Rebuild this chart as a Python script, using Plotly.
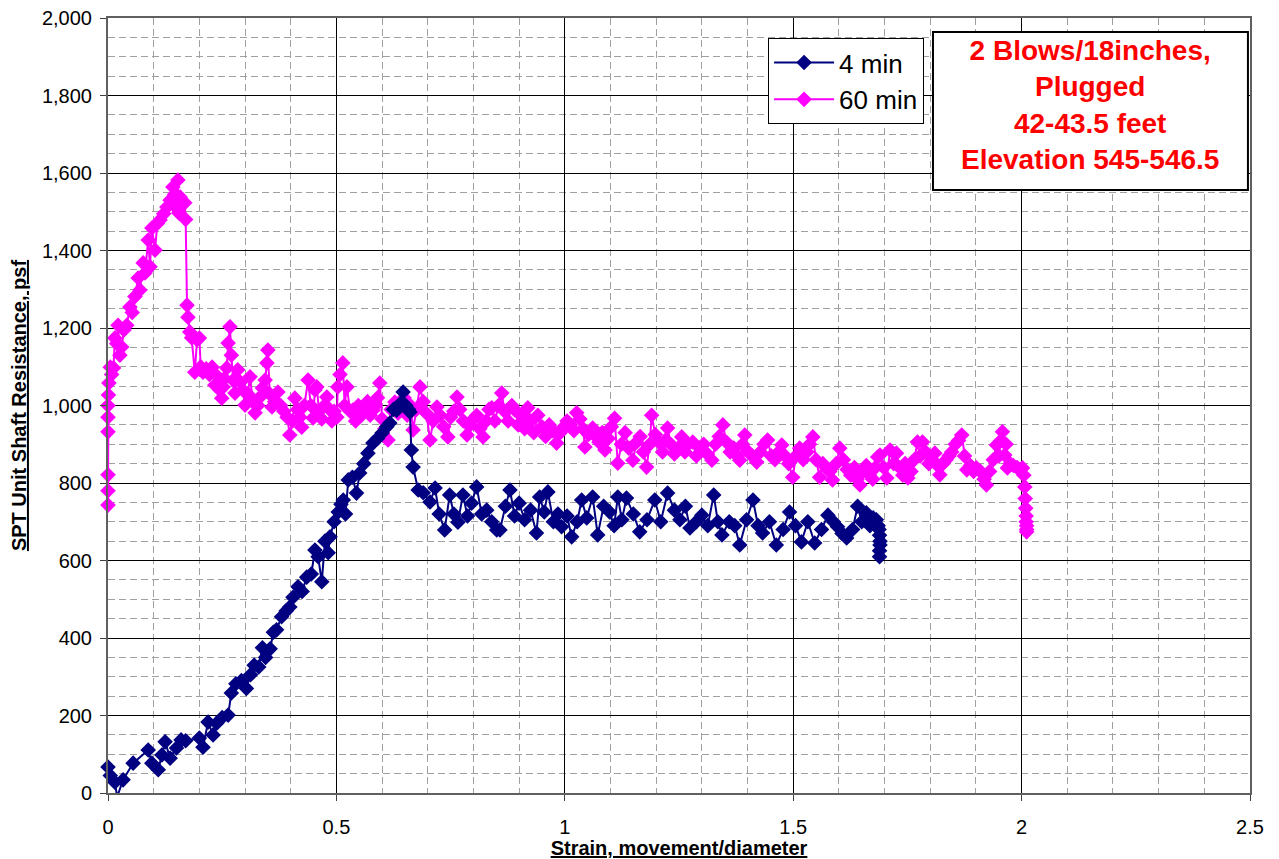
import plotly.graph_objects as go

# Strain (movement/diameter) and unit shaft resistance (psf), 4 min setup
strain_4min = [
    0.000, 0.005, 0.015, 0.020, 0.033, 0.055, 0.088, 0.096, 0.110, 0.118,
    0.125, 0.136, 0.150, 0.160, 0.170, 0.200, 0.208, 0.219, 0.230, 0.238,
    0.250, 0.263, 0.270, 0.280, 0.292, 0.303, 0.312, 0.320, 0.330, 0.338,
    0.345, 0.355, 0.362, 0.369, 0.380, 0.390, 0.398, 0.405, 0.416, 0.425,
    0.435, 0.445, 0.453, 0.460, 0.468, 0.475, 0.482, 0.486, 0.495, 0.504,
    0.510, 0.515, 0.520, 0.526, 0.535, 0.544, 0.551, 0.560, 0.569, 0.580,
    0.590, 0.600, 0.610, 0.617, 0.625, 0.632, 0.640, 0.646, 0.652, 0.658,
    0.661, 0.664, 0.668, 0.679, 0.690, 0.705, 0.716, 0.725, 0.737, 0.748,
    0.757, 0.766, 0.777, 0.787, 0.796, 0.807, 0.818, 0.829, 0.840, 0.851,
    0.858, 0.870, 0.880, 0.890, 0.900, 0.912, 0.925, 0.938, 0.945, 0.955,
    0.963, 0.975, 0.985, 0.993, 1.005, 1.015, 1.027, 1.037, 1.048, 1.061,
    1.072, 1.085, 1.098, 1.108, 1.116, 1.125, 1.135, 1.150, 1.164, 1.180,
    1.197, 1.210, 1.225, 1.240, 1.252, 1.264, 1.274, 1.288, 1.300, 1.313,
    1.326, 1.335, 1.344, 1.360, 1.372, 1.383, 1.398, 1.412, 1.423, 1.433,
    1.448, 1.463, 1.478, 1.492, 1.505, 1.518, 1.532, 1.547, 1.562, 1.576,
    1.588, 1.597, 1.607, 1.617, 1.630, 1.641, 1.650, 1.660, 1.668, 1.675,
    1.682, 1.686, 1.688, 1.689, 1.690, 1.690, 1.689, 1.689,
]
resist_4min = [
    67, 45, 28, -10, 34, 77, 111, 77, 60, 98,
    132, 90, 116, 137, 135, 142, 118, 183, 150, 180,
    195, 201, 258, 282, 290, 270, 305, 330, 325, 375,
    350, 372, 415, 421, 455, 470, 480, 505, 532, 520,
    557, 565, 627, 610, 545, 650, 620, 661, 700, 725,
    745, 756, 720, 808, 815, 774, 826, 850, 877, 903,
    915, 929, 945, 955, 990, 988, 1005, 1035, 1000, 990,
    983, 885, 841, 782, 775, 751, 787, 720, 679, 769,
    720, 699, 769, 715, 748, 790, 720, 730, 700, 679,
    679, 740, 782, 715, 748, 705, 730, 671, 764, 725,
    777, 700, 720, 687, 715, 661, 700, 756, 710, 764,
    666, 740, 725, 690, 764, 705, 761, 720, 674, 705,
    756, 700, 774, 730, 705, 740, 684, 700, 717, 690,
    769, 700, 666, 700, 690, 640, 705, 756, 690, 671,
    700, 640, 680, 725, 690, 648, 700, 645, 680, 717,
    700, 687, 670, 658, 680, 740, 700, 723, 690, 710,
    705, 690, 680, 665, 650, 640, 625, 610,
]

# 60 min setup
strain_60min = [
    0.000, 0.000, 0.000, 0.000, 0.000, 0.000, 0.001, 0.002, 0.005, 0.008,
    0.012, 0.015, 0.019, 0.022, 0.026, 0.030, 0.035, 0.041, 0.048, 0.053,
    0.059, 0.066, 0.070, 0.077, 0.081, 0.088, 0.092, 0.096, 0.103, 0.108,
    0.114, 0.122, 0.129, 0.136, 0.142, 0.146, 0.150, 0.153, 0.155, 0.158,
    0.162, 0.168, 0.170, 0.173, 0.175, 0.179, 0.183, 0.190, 0.195, 0.200,
    0.203, 0.208, 0.215, 0.222, 0.228, 0.234, 0.240, 0.245, 0.249, 0.252,
    0.255, 0.260, 0.263, 0.267, 0.270, 0.274, 0.278, 0.284, 0.290, 0.295,
    0.300, 0.306, 0.311, 0.317, 0.322, 0.328, 0.333, 0.338, 0.344, 0.348,
    0.350, 0.354, 0.359, 0.365, 0.372, 0.378, 0.385, 0.392, 0.398, 0.404,
    0.409, 0.415, 0.420, 0.424, 0.430, 0.438, 0.444, 0.449, 0.453, 0.457,
    0.462, 0.468, 0.474, 0.479, 0.485, 0.490, 0.495, 0.501, 0.503, 0.508,
    0.514, 0.518, 0.523, 0.530, 0.536, 0.542, 0.548, 0.555, 0.562, 0.568,
    0.574, 0.580, 0.585, 0.590, 0.595, 0.600, 0.606, 0.613, 0.620, 0.628,
    0.635, 0.642, 0.648, 0.655, 0.662, 0.668, 0.675, 0.683, 0.690, 0.697,
    0.705, 0.712, 0.720, 0.727, 0.735, 0.744, 0.750, 0.757, 0.764, 0.770,
    0.778, 0.786, 0.793, 0.800, 0.807, 0.814, 0.821, 0.828, 0.834, 0.840,
    0.847, 0.855, 0.862, 0.868, 0.876, 0.884, 0.891, 0.898, 0.905, 0.912,
    0.919, 0.925, 0.932, 0.941, 0.950, 0.958, 0.966, 0.974, 0.982, 0.990,
    0.998, 1.005, 1.012, 1.020, 1.026, 1.033, 1.040, 1.044, 1.052, 1.061,
    1.068, 1.075, 1.082, 1.088, 1.095, 1.102, 1.109, 1.116, 1.124, 1.132,
    1.140, 1.149, 1.157, 1.165, 1.172, 1.179, 1.186, 1.190, 1.198, 1.206,
    1.214, 1.220, 1.225, 1.232, 1.240, 1.248, 1.256, 1.263, 1.270, 1.280,
    1.288, 1.296, 1.304, 1.312, 1.322, 1.330, 1.338, 1.346, 1.354, 1.362,
    1.370, 1.378, 1.383, 1.389, 1.394, 1.402, 1.410, 1.420, 1.428, 1.436,
    1.444, 1.452, 1.460, 1.468, 1.475, 1.482, 1.490, 1.499, 1.506, 1.514,
    1.522, 1.530, 1.536, 1.543, 1.550, 1.558, 1.565, 1.572, 1.580, 1.586,
    1.594, 1.602, 1.610, 1.618, 1.626, 1.634, 1.640, 1.646, 1.652, 1.660,
    1.667, 1.674, 1.680, 1.685, 1.690, 1.698, 1.705, 1.712, 1.720, 1.726,
    1.733, 1.740, 1.745, 1.751, 1.758, 1.765, 1.772, 1.778, 1.783, 1.790,
    1.797, 1.804, 1.810, 1.816, 1.821, 1.828, 1.835, 1.841, 1.847, 1.855,
    1.862, 1.869, 1.875, 1.880, 1.888, 1.895, 1.901, 1.910, 1.918, 1.923,
    1.930, 1.938, 1.945, 1.950, 1.955, 1.958, 1.963, 1.966, 1.969, 1.975,
    1.982, 1.990, 1.996, 2.002, 2.005, 2.007, 2.008, 2.009, 2.010, 2.010,
    2.011, 2.011, 2.011,
]
resist_60min = [
    743, 780, 821, 932, 970, 1000, 1027, 1058, 1099, 1080,
    1097, 1174, 1160, 1207, 1130, 1151, 1195, 1207, 1254, 1240,
    1281, 1329, 1298, 1368, 1342, 1427, 1358, 1458, 1401, 1470,
    1479, 1495, 1512, 1530, 1564, 1545, 1510, 1582, 1497, 1538,
    1520, 1523, 1480, 1259, 1228, 1190, 1175, 1086, 1170, 1174,
    1100, 1086, 1095, 1080, 1099, 1053, 1075, 1040, 1019, 1048,
    1070, 1097, 1161, 1203, 1130, 1065, 1032, 1092, 1060, 1040,
    1001, 1030, 1074, 1010, 981, 1000, 1022, 1045, 1066, 1110,
    1143, 1030, 996, 1010, 1035, 1000, 985, 970, 924, 960,
    1019, 990, 970, 944, 1000, 1066, 1000, 968, 1040, 1048,
    985, 965, 1000, 1022, 990, 960, 985, 970, 1048, 1080,
    1110, 1000, 1048, 985, 988, 960, 1000, 975, 988, 1010,
    975, 988, 1000, 1020, 1058, 965, 940, 911, 990, 1009,
    980, 1000, 1020, 975, 1000, 937, 990, 1048, 1010, 980,
    911, 960, 996, 975, 945, 919, 970, 985, 1022, 990,
    960, 924, 950, 965, 975, 940, 919, 960, 990, 994,
    960, 1000, 1032, 985, 960, 1000, 988, 950, 975, 940,
    994, 960, 930, 975, 945, 920, 950, 935, 903, 930,
    945, 960, 950, 935, 981, 965, 940, 893, 925, 942,
    920, 905, 930, 885, 915, 945, 967, 851, 900, 930,
    890, 859, 905, 920, 880, 841, 900, 975, 925, 905,
    880, 910, 942, 900, 875, 890, 919, 880, 900, 906,
    870, 890, 900, 875, 859, 900, 920, 950, 905, 880,
    890, 870, 859, 900, 924, 880, 870, 854, 880, 900,
    911, 870, 860, 880, 898, 870, 850, 815, 870, 890,
    860, 880, 900, 919, 860, 815, 850, 840, 830, 808,
    850, 890, 860, 835, 820, 840, 810, 795, 830, 845,
    820, 810, 840, 867, 872, 840, 813, 885, 850, 877,
    840, 820, 850, 813, 830, 860, 906, 870, 906, 880,
    850, 860, 877, 845, 821, 850, 860, 870, 880, 900,
    910, 924, 870, 834, 845, 830, 839, 830, 810, 795,
    830, 860, 898, 870, 910, 932, 872, 900, 839, 850,
    845, 840, 835, 839, 820, 790, 760, 735, 715, 700,
    690, 680, 674,
]

x_ticks = [0, 0.5, 1, 1.5, 2, 2.5]
y_ticks = [0, 200, 400, 600, 800, 1000, 1200, 1400, 1600, 1800, 2000]

info_lines = ["2 Blows/18inches,", "Plugged", "42-43.5 feet", "Elevation 545-546.5"]

FONT = "Arial, 'Liberation Sans', sans-serif"

fig = go.Figure()

fig.add_trace(go.Scatter(
    x=strain_60min, y=resist_60min, name="60 min", mode="lines+markers",
    line=dict(color="#FF00FF", width=2),
    marker=dict(symbol="diamond", size=12, color="#FF00FF"),
    cliponaxis=False, legendrank=2,
))
fig.add_trace(go.Scatter(
    x=strain_4min, y=resist_4min, name="4 min", mode="lines+markers",
    line=dict(color="#000080", width=2),
    marker=dict(symbol="diamond", size=12, color="#000080"),
    cliponaxis=False, legendrank=1,
))

axis_common = dict(
    showgrid=True, gridcolor="#000000", gridwidth=1,
    ticks="outside", ticklen=6, tickcolor="#404040", tickwidth=1,
    showline=True, linecolor="#606060", linewidth=2, mirror=True,
    zeroline=False,
    tickfont=dict(family=FONT, size=20, color="black"),
)

fig.update_xaxes(
    range=[0, 2.5], tickvals=x_ticks, ticktext=[f"{v:g}" for v in x_ticks],
    minor=dict(dtick=0.1, tick0=0, showgrid=True, gridcolor="#a0a0a0",
               griddash="7px,4px", gridwidth=1),
    ticklabelstandoff=9,
    title=dict(text="<u><b>Strain, movement/diameter</b></u>",
               font=dict(family=FONT, size=20, color="black"), standoff=2),
    **axis_common,
)
fig.update_yaxes(
    range=[0, 2000], tickvals=y_ticks, ticktext=[f"{v:,}" for v in y_ticks],
    minor=dict(dtick=50, tick0=0, showgrid=True, gridcolor="#a0a0a0",
               griddash="7px,4px", gridwidth=1),
    ticklabelstandoff=4,
    title=dict(text="<u><b>SPT Unit Shaft Resistance, psf</b></u>",
               font=dict(family=FONT, size=20, color="black"), standoff=10),
    **axis_common,
)

# Test description box
fig.add_shape(type="rect", xref="paper", yref="paper",
              x0=0.7224, x1=0.9982, y0=0.778, y1=0.982,
              line=dict(color="black", width=2), fillcolor="white", layer="above")
fig.add_annotation(
    xref="paper", yref="paper", x=0.860, y=0.888, xanchor="center", yanchor="middle",
    text="<br>".join(info_lines), showarrow=False, align="center",
    font=dict(family=FONT, size=28, color="#FF0000", weight="bold"),
)

fig.update_layout(
    width=1279, height=859,
    margin=dict(l=108, r=29, t=18, b=66, autoexpand=False),
    paper_bgcolor="white", plot_bgcolor="white",
    font=dict(family=FONT, color="black"),
    showlegend=True,
    legend=dict(
        x=0.578, y=0.974, xanchor="left", yanchor="top",
        bgcolor="white", bordercolor="black", borderwidth=1,
        font=dict(family=FONT, size=26, color="black"),
        itemwidth=60, tracegroupgap=0,
    ),
)

fig.write_html("out.html")
